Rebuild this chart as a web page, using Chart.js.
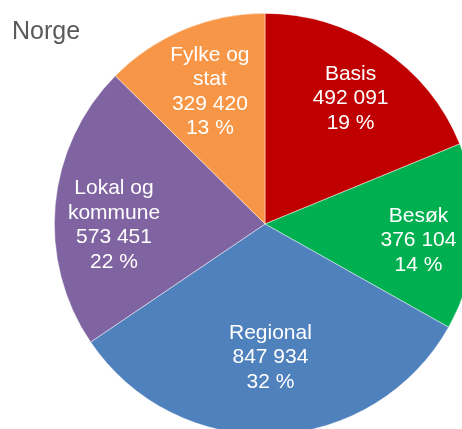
<!DOCTYPE html>
<html>
<head>
<meta charset="utf-8">
<script src="https://cdn.jsdelivr.net/npm/chart.js@4"></script>
<style>
  html, body { margin: 0; padding: 0; background: #fff; }
  #wrap { position: relative; width: 462px; height: 429px; overflow: hidden; }
  #graf { position: absolute; left: 0; top: 0; }
  #tittel {
    position: absolute; left: 12px; top: 16px;
    font-family: "Liberation Sans", Arial, sans-serif;
    font-size: 25px; color: #595959;
  }
</style>
</head>
<body>
<div id="wrap">
  <canvas id="graf" width="530" height="448"></canvas>
  <div id="tittel">Norge</div>
</div>
<script>
const kategorier = [["Basis"], ["Besøk"], ["Regional"], ["Lokal og", "kommune"], ["Fylke og", "stat"]];
const verdier = [492091, 376104, 847934, 573451, 329420];
const farger = ["#C00000", "#00B050", "#4F81BD", "#8064A2", "#F79646"];

// plassering av etikettene: andel av radius og loddrett justering
const etikettAvstand = [0.73, 0.73, 0.62, 0.72, 0.68];
const etikettDy = [2, 7, 3, 15, 0];

function formaterTall(n) {
  return String(n).replace(/\B(?=(\d{3})+(?!\d))/g, " ");
}

const total = verdier.reduce((a, b) => a + b, 0);

const etiketter = {
  id: "etiketter",
  afterDatasetsDraw(chart) {
    const ctx = chart.ctx;
    const meta = chart.getDatasetMeta(0);
    ctx.save();
    ctx.fillStyle = "#ffffff";
    ctx.font = "21px 'Liberation Sans', Arial, sans-serif";
    ctx.textAlign = "center";
    ctx.textBaseline = "middle";
    meta.data.forEach((arc, i) => {
      const p = arc.getProps(["x", "y", "startAngle", "endAngle", "outerRadius"], true);
      const mid = (p.startAngle + p.endAngle) / 2;
      const r = p.outerRadius * etikettAvstand[i];
      const cx = p.x + Math.cos(mid) * r;
      const cy = p.y + Math.sin(mid) * r + etikettDy[i];
      const linjer = kategorier[i].concat([
        formaterTall(verdier[i]),
        Math.round(verdier[i] / total * 100) + " %"
      ]);
      const lh = 24.5;
      const y0 = cy - (linjer.length - 1) * lh / 2;
      linjer.forEach((t, j) => ctx.fillText(t, cx, y0 + j * lh));
    });
    ctx.restore();
  }
};

new Chart(document.getElementById("graf"), {
  type: "pie",
  data: {
    labels: kategorier.map((k) => k.join(" ")),
    datasets: [{
      data: verdier,
      backgroundColor: farger,
      borderColor: "rgba(255,255,255,0.6)",
      borderWidth: 0.75
    }]
  },
  options: {
    responsive: false,
    devicePixelRatio: 1,
    animation: false,
    layout: { padding: 13 },
    plugins: {
      legend: { display: false },
      tooltip: { enabled: false }
    }
  },
  plugins: [etiketter]
});
</script>
</body>
</html>
